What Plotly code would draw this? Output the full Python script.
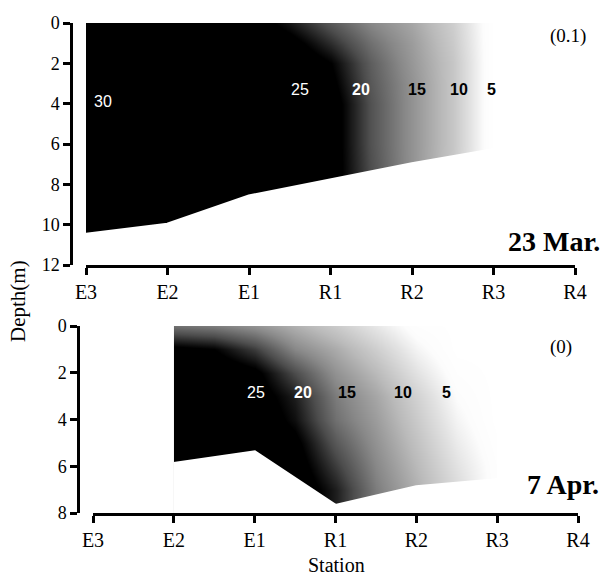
import plotly.graph_objects as go

# ---------------- data ----------------
stations = ["E3", "E2", "E1", "R1", "R2", "R3", "R4"]
station_pos = [0, 1, 2, 3, 4, 5, 6]

# 23 Mar. salinity section
mar_x = [0, 1, 2, 2.5, 3, 3.5, 4, 4.5, 5]
mar_depth = [0, 1, 2, 3, 4, 6, 8, 10, 11]
mar_sal = [
    [30, 30, 27.5, 23.5, 19, 15, 12, 7.5, 0],
    [30, 30, 29, 26.5, 22, 17, 13, 8, 0],
    [30, 30, 30, 28.5, 25, 18.5, 13.5, 8.5, 0],
    [30, 30, 30, 29, 26, 19, 14, 8.5, 0],
    [30, 30, 30, 29, 27, 19.5, 14, 8.5, 0],
    [30, 30, 30, 29, 27, 19.5, 14, 8.5, 0],
    [30, 30, 30, 29, 27, 20, 14, 8, 0],
    [30, 30, 30, 29, 27, 20, 14, 8, 0],
    [30, 30, 30, 29, 27, 20, 14, 8, 0],
]
mar_bottom_x = [0, 1, 2, 3, 4, 5]
mar_bottom = [10.5, 10.0, 8.6, 7.8, 7.0, 6.3]

# 7 Apr. salinity section
apr_x = [1, 1.5, 2, 2.5, 3, 3.5, 4, 4.5, 5]
apr_depth = [0, 1, 2, 3, 4, 5, 6, 7, 8]
apr_sal = [
    [17, 16, 14, 11, 8, 4.5, 1, 0, 0],
    [26, 25, 21, 15, 11.5, 7.5, 3, 0, 0],
    [28, 28, 26, 20, 14, 10, 5, 1, 0],
    [29, 29, 27, 23, 16, 12, 7, 2, 0],
    [29, 29, 28, 24, 17, 13, 8, 3, 0],
    [30, 30, 29, 26, 19, 14, 9, 4, 0.5],
    [30, 30, 29, 27, 21, 15, 10, 5, 1],
    [30, 30, 30, 28, 23, 16, 11, 6, 1],
    [30, 30, 30, 28, 23, 16, 11, 6, 1],
]
apr_bottom_x = [1, 2, 3, 4, 5]
apr_bottom = [5.9, 5.4, 7.7, 6.9, 6.6]

# contour labels: (text, station position, depth, colour)
mar_labels = [("30", 0.21, 3.9, "white"), ("25", 2.62, 3.32, "white"),
              ("20", 3.37, 3.32, "white"), ("15", 4.06, 3.32, "black"),
              ("10", 4.58, 3.32, "black"), ("5", 4.97, 3.32, "black")]
apr_labels = [("25", 2.02, 2.85, "white"), ("20", 2.6, 2.85, "white"),
              ("15", 3.14, 2.85, "black"), ("10", 3.83, 2.85, "black"),
              ("5", 4.37, 2.85, "black")]

# ---------------- styling ----------------
W, H = 603, 583
SERIF = "Liberation Serif, Times New Roman, serif"
SANS = "Liberation Sans, Arial, sans-serif"

gray_scale = [
    [0.0, "rgb(255,255,255)"],
    [0.07, "rgb(252,252,252)"],
    [0.167, "rgb(226,226,226)"],
    [0.333, "rgb(186,186,186)"],
    [0.5, "rgb(136,136,136)"],
    [0.667, "rgb(76,76,76)"],
    [0.8, "rgb(14,14,14)"],
    [0.833, "rgb(0,0,0)"],
    [1.0, "rgb(0,0,0)"],
]


def px_x(p):
    return p / W


def px_y(p):
    return 1 - p / H


fig = go.Figure()

for xs, ds, zs, xa, ya in [(mar_x, mar_depth, mar_sal, "x", "y"),
                           (apr_x, apr_depth, apr_sal, "x2", "y2")]:
    fig.add_trace(go.Contour(
        x=xs, y=ds, z=zs, xaxis=xa, yaxis=ya,
        colorscale=gray_scale, zmin=0, zmax=30, showscale=False,
        contours=dict(coloring="heatmap", showlines=False, start=0, end=30, size=1),
        line=dict(width=0), hoverinfo="skip",
    ))

for bx, bd, xa, ya, floor in [(mar_bottom_x, mar_bottom, "x", "y", 12.5),
                              (apr_bottom_x, apr_bottom, "x2", "y2", 8.5)]:
    fig.add_trace(go.Scatter(
        x=list(bx) + list(bx)[::-1], y=list(bd) + [floor] * len(bx),
        xaxis=xa, yaxis=ya, mode="lines", fill="toself",
        fillcolor="white", line=dict(color="white", width=4),
        hoverinfo="skip", showlegend=False,
    ))

axis_common = dict(showline=True, linecolor="black", linewidth=2.5,
                   ticks="outside", tickcolor="black", tickwidth=2.5, ticklen=7,
                   showgrid=False, zeroline=False, automargin=False)

fig.update_layout(
    width=W, height=H, margin=dict(l=0, r=0, t=0, b=0),
    paper_bgcolor="white", plot_bgcolor="white", showlegend=False,
    xaxis=dict(axis_common, domain=[px_x(86), px_x(575)], range=[0, 6],
               anchor="y", tickvals=station_pos, ticktext=stations,
               tickfont=dict(family=SERIF, size=20, color="black")),
    yaxis=dict(axis_common, domain=[px_y(265), px_y(23)], range=[12, 0],
               anchor="free", position=px_x(71), tickvals=[0, 2, 4, 6, 8, 10, 12],
               tickfont=dict(family=SERIF, size=18, color="black")),
    xaxis2=dict(axis_common, domain=[px_x(93), px_x(578)], range=[0, 6],
                anchor="y2", tickvals=station_pos, ticktext=stations,
                tickfont=dict(family=SERIF, size=20, color="black")),
    yaxis2=dict(axis_common, domain=[px_y(513), px_y(326)], range=[8, 0],
                anchor="free", position=px_x(78), tickvals=[0, 2, 4, 6, 8],
                tickfont=dict(family=SERIF, size=18, color="black")),
)

ann = []
for labels, xr, yr in [(mar_labels, "x", "y"), (apr_labels, "x2", "y2")]:
    for t, xv, dv, c in labels:
        bold = c == "black" or t == "20"
        ann.append(dict(text=f"<b>{t}</b>" if bold else t, x=xv, y=dv, xref=xr, yref=yr,
                        xanchor="center", yanchor="middle",
                        showarrow=False, font=dict(family=SANS, size=16, color=c)))

ann += [
    dict(text="<b>23 Mar.</b>", x=px_x(602), y=px_y(241),
         xanchor="right", yanchor="middle", font=dict(family=SERIF, size=28, color="black")),
    dict(text="<b>7 Apr.</b>", x=px_x(601), y=px_y(484),
         xanchor="right", yanchor="middle", font=dict(family=SERIF, size=28, color="black")),
    dict(text="(0.1)", x=px_x(568), y=px_y(36), xanchor="center", yanchor="middle",
         font=dict(family=SERIF, size=19, color="black")),
    dict(text="(0)", x=px_x(561), y=px_y(347), xanchor="center", yanchor="middle",
         font=dict(family=SERIF, size=19, color="black")),
    dict(text="Depth(m)", x=px_x(18), y=px_y(301), xanchor="center", yanchor="middle",
         textangle=-90, font=dict(family=SERIF, size=21, color="black")),
    dict(text="Station", x=px_x(336), y=px_y(565), xanchor="center", yanchor="middle",
         font=dict(family=SERIF, size=20, color="black")),
]
for a in ann[-6:]:
    a.update(xref="paper", yref="paper", showarrow=False)
fig.update_layout(annotations=ann)

fig.write_html(
    "out.html",
    config={"displayModeBar": False},
    post_script="document.body.style.margin='0';document.body.style.overflow='hidden';",
)
